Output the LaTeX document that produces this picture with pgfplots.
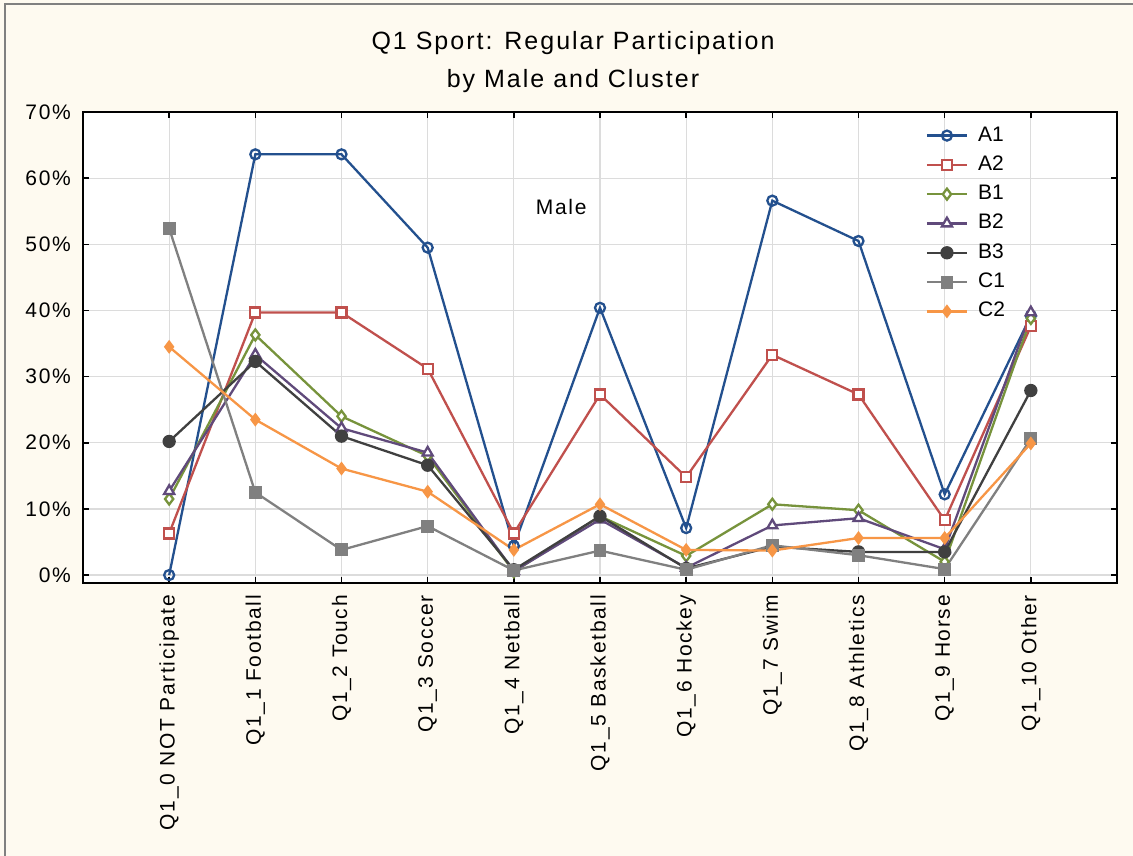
\documentclass[border=0pt]{standalone}
\usepackage{fontspec}
\setmainfont{Liberation Sans}
\newfontfamily\spaced[LetterSpace=8]{Liberation Sans}
\usepackage{pgfplots}
\pgfplotsset{compat=1.18}
\usepackage{pgfplotstable}
\usetikzlibrary{backgrounds}
\definecolor{bgc}{RGB}{254,250,240}
\definecolor{gridc}{RGB}{220,220,220}
\definecolor{cA1}{RGB}{35,80,142}
\definecolor{cA2}{RGB}{192,80,77}
\definecolor{cB1}{RGB}{119,147,60}
\definecolor{cB2}{RGB}{96,74,123}
\definecolor{cB3}{RGB}{64,64,64}
\definecolor{cC1}{RGB}{128,128,128}
\definecolor{cC2}{RGB}{247,150,70}
\pgfplotstableread{
x A1 A2 B1 B2 B3 C1 C2
0 0.0 6.3 11.5 12.7 20.2 52.4 34.5
1 63.6 39.7 36.3 33.3 32.3 12.5 23.5
2 63.6 39.7 24.0 22.2 21.0 3.8 16.1
3 49.5 31.2 18.0 18.5 16.6 7.4 12.6
4 4.4 6.3 0.5 0.6 0.8 0.7 3.8
5 40.4 27.3 8.9 8.4 8.9 3.7 10.7
6 7.1 14.8 2.9 1.1 1.0 0.8 3.8
7 56.6 33.3 10.7 7.5 4.3 4.5 3.7
8 50.5 27.3 9.8 8.6 3.5 3.0 5.6
9 12.2 8.3 2.0 3.9 3.5 0.9 5.6
10 39.2 37.6 38.8 39.7 27.9 20.6 19.9
}\data
\begin{document}
\begin{tikzpicture}[x=1pt,y=1pt]
\begin{axis}[
  scale only axis, width=1034pt, height=471pt,
  xmin=-1, xmax=11, ymin=-1.2, ymax=70,
  xtick={0,...,10},
  xticklabels={Q1\_0 NOT Participate, Q1\_1 Football, Q1\_2 Touch, Q1\_3 Soccer, Q1\_4 Netball, Q1\_5 Basketball, Q1\_6 Hockey, Q1\_7 Swim, Q1\_8 Athletics, Q1\_9 Horse, Q1\_10 Other},
  ytick={0,10,...,70},
  yticklabels={0\%,10\%,20\%,30\%,40\%,50\%,60\%,70\%},
  tick align=inside, xtick pos=both, ytick pos=both,
  xticklabel pos=bottom, yticklabel pos=left,
  major tick length=6pt,
  grid=major, grid style={draw=gridc, line width=1.2pt},
  axis line style={line width=1.8pt},
  tick style={black, line width=1.6pt},
  axis background/.style={fill=white},
  tick label style={font=\spaced\fontsize{21}{25}\selectfont},
  x tick label style={rotate=90, anchor=east, inner sep=0pt},
  xticklabel shift=12pt,
  y tick label style={inner sep=0pt},
  yticklabel shift=12pt,
  every axis plot/.append style={line width=2.3pt, mark options={solid, line width=1.7pt}},
  legend style={draw=none, fill=none, at={(0.812,0.979)}, anchor=north west,
    font=\fontsize{21}{25}\selectfont,
    nodes={inner sep=2pt, text height=15pt, text depth=4pt},
    row sep=6.3pt,
    /tikz/every odd column/.append style={column sep=8pt}},
  legend cell align=left,
  legend image code/.code={\draw[mark repeat=2,mark phase=2,#1] plot coordinates {(0pt,0pt) (20pt,0pt) (40pt,0pt)};},
]
\addplot[cA1, mark=o, mark size=5pt, mark options={fill=white}] table[x=x,y=A1] {\data};
\addlegendentry{A1}
\addplot[cA2, mark=square*, mark size=5pt, mark options={fill=white}] table[x=x,y=A2] {\data};
\addlegendentry{A2}
\addplot[cB1, mark=diamond*, mark size=5.5pt, mark options={fill=white}] table[x=x,y=B1] {\data};
\addlegendentry{B1}
\addplot[cB2, mark=triangle*, mark size=5.8pt, mark options={fill=white}] table[x=x,y=B2] {\data};
\addlegendentry{B2}
\addplot[cB3, mark=*, mark size=5.8pt] table[x=x,y=B3] {\data};
\addlegendentry{B3}
\addplot[cC1, mark=square*, mark size=5.6pt] table[x=x,y=C1] {\data};
\addlegendentry{C1}
\addplot[cC2, mark=diamond*, mark size=5.6pt] table[x=x,y=C2] {\data};
\addlegendentry{C2}
\node[anchor=base, font=\spaced\fontsize{21}{25}\selectfont] at (axis cs:4.55,54.5) {Male};
\coordinate (O) at (rel axis cs:0,0);
\end{axis}
\begin{scope}[on background layer, shift={(O)}, shift={(-83,-273)}]
\fill[bgc] (0,0) rectangle (1133,856);
\draw[gray, line width=2pt] (5,0) -- (5,852) -- (1133,852);
\end{scope}
\begin{scope}[shift={(O)}, shift={(-83,-273)}]
\node[anchor=base, font=\spaced\fontsize{25}{30}\selectfont] at (573,806) {Q1 Sport: Regular Participation};
\node[anchor=base, font=\spaced\fontsize{25}{30}\selectfont] at (573,768) {by Male and Cluster};
\end{scope}
\pgfresetboundingbox
\path[use as bounding box] ([shift={(-83,-273)}]O) rectangle ++(1133,856);
\end{tikzpicture}
\end{document}
